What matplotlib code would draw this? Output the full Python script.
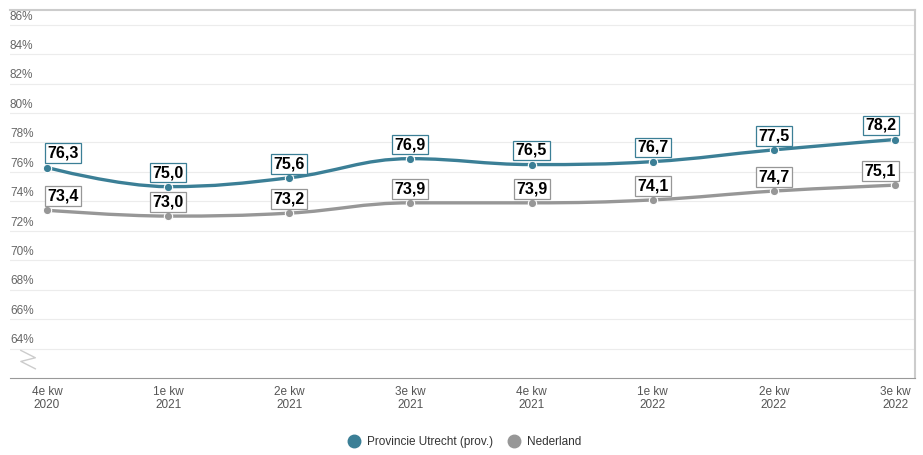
import matplotlib.pyplot as plt
from matplotlib.path import Path
from matplotlib.patches import PathPatch
from matplotlib.lines import Line2D

plt.rcParams["font.family"] = ["Liberation Sans", "DejaVu Sans"]

# quarters and values (%)
quarters = ["4e kw\n2020", "1e kw\n2021", "2e kw\n2021", "3e kw\n2021",
            "4e kw\n2021", "1e kw\n2022", "2e kw\n2022", "3e kw\n2022"]
utrecht = [76.3, 75.0, 75.6, 76.9, 76.5, 76.7, 77.5, 78.2]
nederland = [73.4, 73.0, 73.2, 73.9, 73.9, 74.1, 74.7, 75.1]
y_ticks = list(range(64, 88, 2))

teal = "#3b7f96"
grey = "#979797"


def spline_path(xs, ys):
    # highcharts-like spline (smoothing 1.5)
    verts = [(xs[0], ys[0])]
    codes = [Path.MOVETO]
    ctrl = []
    n = len(xs)
    for i in range(n):
        x, y = xs[i], ys[i]
        if 0 < i < n - 1:
            lx = (1.5 * x + xs[i - 1]) / 2.5
            ly = (1.5 * y + ys[i - 1]) / 2.5
            rx = (1.5 * x + xs[i + 1]) / 2.5
            ry = (1.5 * y + ys[i + 1]) / 2.5
            corr = (ry - ly) * (rx - x) / (rx - lx) + y - ry
            ly += corr
            ry += corr
            if ly > ys[i - 1] and ly > y:
                ly = max(ys[i - 1], y)
                ry = 2 * y - ly
            elif ly < ys[i - 1] and ly < y:
                ly = min(ys[i - 1], y)
                ry = 2 * y - ly
            if ry > ys[i + 1] and ry > y:
                ry = max(ys[i + 1], y)
                ly = 2 * y - ry
            elif ry < ys[i + 1] and ry < y:
                ry = min(ys[i + 1], y)
                ly = 2 * y - ry
            ctrl.append(((lx, ly), (rx, ry)))
        else:
            ctrl.append(((x, y), (x, y)))
    for i in range(1, n):
        verts += [ctrl[i - 1][1], ctrl[i][0], (xs[i], ys[i])]
        codes += [Path.CURVE4] * 3
    return Path(verts, codes)


fig = plt.figure(figsize=(9.23, 4.55), dpi=100)
ax = fig.add_axes([10 / 923, 77 / 455, 905 / 923, 368 / 455])
x = list(range(len(quarters)))
ax.set_xlim(-0.305, 7.165)
ax.set_ylim(62, 87)

for v in y_ticks:
    ax.axhline(v, color="#ececec", lw=0.8, zorder=0)
    ax.text(0.0, v + 0.15, f"{v}%", transform=ax.get_yaxis_transform(),
            ha="left", va="bottom", fontsize=8.5, color="#666666")

ax.spines["left"].set_visible(False)
ax.spines["bottom"].set_color("#999999")
ax.spines["top"].set_color("#cccccc")
ax.spines["right"].set_color("#cccccc")
ax.spines["top"].set_linewidth(1.5)
ax.spines["right"].set_linewidth(1.5)
ax.set_yticks([])
ax.set_xticks(x)
ax.set_xticklabels(quarters, fontsize=8.5, color="#555555", linespacing=1.1)
ax.tick_params(axis="x", length=0, pad=6)

# axis break sign
ax.plot([0.012, 0.028, 0.012, 0.028], [0.075, 0.055, 0.045, 0.025],
        transform=ax.transAxes, color="#cccccc", lw=1)

for vals, col in [(nederland, grey), (utrecht, teal)]:
    ax.add_patch(PathPatch(spline_path(x, vals), fill=False, edgecolor=col,
                           lw=2.4, capstyle="round", zorder=3))
    ax.plot(x, vals, "o", color=col, ms=6, mec="white", mew=0.8, zorder=4)
    for i, v in enumerate(vals):
        if i == 0:
            ha, xo = "left", 0.0
        elif i == len(vals) - 1:
            ha, xo = "right", 0.01
        else:
            ha, xo = "center", 0.0
        ax.text(i + xo, v + 0.45, f"{v:.1f}".replace(".", ","), ha=ha,
                va="bottom", fontsize=11.5, fontweight="bold", color="black",
                zorder=5,
                bbox=dict(boxstyle="square,pad=0.15", fc="white", ec=col, lw=0.9))

handles = [Line2D([], [], marker="o", ls="", color=teal, ms=9),
           Line2D([], [], marker="o", ls="", color=grey, ms=9)]
fig.legend(handles, ["Provincie Utrecht (prov.)", "Nederland"], loc="center",
           bbox_to_anchor=(0.5, 1 - 442 / 455), ncol=2, frameon=False,
           fontsize=8.5, handletextpad=0.1, columnspacing=0.8,
           labelcolor="#333333")

fig.savefig("out.png", dpi=100)
